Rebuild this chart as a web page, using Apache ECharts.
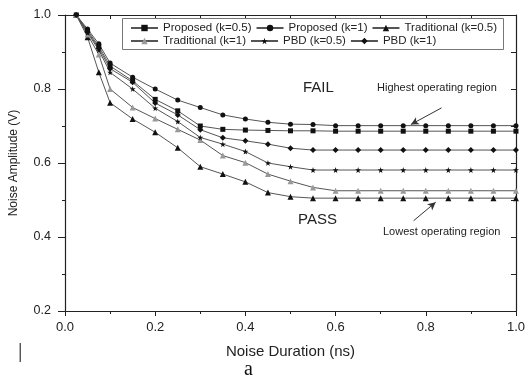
<!DOCTYPE html>
<html>
<head>
<meta charset="utf-8">
<script src="https://cdn.jsdelivr.net/npm/echarts@6/dist/echarts.min.js"></script>
<style>
    html, body { margin: 0; padding: 0; background: #fff; }
    #chart { width: 528px; height: 383px; }
</style>
</head>
<body>
<div id="chart"></div>
<script>
// noise duration (ns)
let durations = [0.025, 0.05, 0.075, 0.1, 0.15, 0.2, 0.25, 0.3, 0.35, 0.4, 0.45, 0.5, 0.55,
    0.6, 0.65, 0.7, 0.75, 0.8, 0.85, 0.9, 0.95, 1.0];

// noise amplitude (V)
let proposedK05 = [1.0, 0.958, 0.915, 0.862, 0.822, 0.772, 0.741, 0.700, 0.691, 0.689, 0.688, 0.687, 0.687,
    0.686, 0.686, 0.686, 0.686, 0.686, 0.686, 0.686, 0.686, 0.686];
let proposedK1 = [1.0, 0.962, 0.922, 0.870, 0.832, 0.800, 0.770, 0.750, 0.730, 0.719, 0.710, 0.705, 0.704,
    0.701, 0.701, 0.701, 0.701, 0.701, 0.701, 0.701, 0.701, 0.701];
let traditionalK05 = [1.0, 0.940, 0.845, 0.763, 0.719, 0.683, 0.641, 0.590, 0.570, 0.549, 0.520, 0.509, 0.505,
    0.505, 0.505, 0.505, 0.505, 0.505, 0.505, 0.505, 0.505, 0.505];
let traditionalK1 = [1.0, 0.947, 0.893, 0.800, 0.750, 0.720, 0.691, 0.662, 0.620, 0.601, 0.570, 0.551, 0.534,
    0.525, 0.525, 0.525, 0.525, 0.525, 0.525, 0.525, 0.525, 0.525];
let pbdK05 = [1.0, 0.952, 0.905, 0.845, 0.800, 0.748, 0.712, 0.669, 0.651, 0.631, 0.600, 0.590, 0.581,
    0.581, 0.581, 0.581, 0.581, 0.581, 0.581, 0.581, 0.581, 0.581];
let pbdK1 = [1.0, 0.955, 0.910, 0.855, 0.818, 0.762, 0.730, 0.690, 0.668, 0.660, 0.651, 0.640, 0.635,
    0.635, 0.635, 0.635, 0.635, 0.635, 0.635, 0.635, 0.635, 0.635];

let xTicks = ['0.0', '0.2', '0.4', '0.6', '0.8', '1.0'];
let yTicks = ['0.2', '0.4', '0.6', '0.8', '1.0'];

const FONT = '"Liberation Sans", Arial, sans-serif';
const STAR = 'path://M50,0 L61,35 L98,35 L68,57 L79,91 L50,70 L21,91 L32,57 L2,35 L39,35 Z';

let pairs = function(ys){
    return durations.map((x, i) => [x, ys[i]]);
};

let makeSeries = function(name, ys, symbol, size, color){
    return {
        name: name,
        type: 'line',
        data: pairs(ys),
        symbol: symbol,
        symbolSize: size,
        showAllSymbol: true,
        lineStyle: { color: '#555', width: 1 },
        itemStyle: { color: color || '#111' },
        emphasis: { disabled: true },
        z: 3
    };
};

let series = [
    makeSeries('Proposed (k=0.5)', proposedK05, 'rect', 5),
    makeSeries('Proposed (k=1)', proposedK1, 'circle', 5),
    makeSeries('Traditional (k=0.5)', traditionalK05, 'triangle', 6),
    makeSeries('Traditional (k=1)', traditionalK1, 'triangle', 6, '#999'),
    makeSeries('PBD (k=0.5)', pbdK05, STAR, 6),
    makeSeries('PBD (k=1)', pbdK1, 'diamond', 6)
];

// annotation arrows, in data coordinates
series.push({
    type: 'line',
    data: [],
    silent: true,
    markLine: {
        silent: true,
        symbol: ['none', 'arrow'],
        symbolSize: [6, 8],
        label: { show: false },
        lineStyle: { color: '#333', width: 1, type: 'solid' },
        data: [
            [{ coord: [0.835, 0.749] }, { coord: [0.767, 0.704] }],
            [{ coord: [0.773, 0.444] }, { coord: [0.822, 0.494] }]
        ]
    }
});

let axisLine = { show: true, onZero: false, lineStyle: { color: '#222', width: 1.2 } };

// legend in two rows, inside one framed box (drawn as graphic rect)
let legendRow = function(names, top){
    return {
        left: 130,
        top: top,
        padding: 0,
        itemWidth: 27,
        itemHeight: 8,
        itemGap: 4,
        z: 5,
        data: names,
        textStyle: { fontFamily: FONT, fontSize: 11.5, color: '#222', lineHeight: 12 }
    };
};

let legendNames = series.slice(0, 6).map(s => s.name);

let option = {
    animation: false,
    backgroundColor: '#fff',
    grid: { left: 65, right: 8, top: 15, bottom: 72 },
    legend: [
        legendRow(legendNames.slice(0, 3), 22),
        legendRow(legendNames.slice(3), 35)
    ],
    xAxis: [
        {
            type: 'value',
            min: 0, max: 1, interval: 0.2,
            name: 'Noise Duration (ns)',
            nameLocation: 'middle',
            nameGap: 33,
            nameTextStyle: { fontFamily: FONT, fontSize: 15, color: '#222' },
            axisLine: axisLine,
            axisTick: { show: true, length: 5, lineStyle: { color: '#222' } },
            minorTick: { show: true, splitNumber: 2, length: 3, lineStyle: { color: '#222' } },
            axisLabel: {
                fontFamily: FONT, fontSize: 13, color: '#222', margin: 10,
                formatter: (v) => xTicks[Math.round(v / 0.2)]
            },
            splitLine: { show: false }
        },
        {
            type: 'value',
            position: 'top',
            min: 0, max: 1, interval: 0.1,
            axisLine: axisLine,
            axisTick: { show: true, inside: true, length: 4, lineStyle: { color: '#222' } },
            axisLabel: { show: false },
            splitLine: { show: false }
        }
    ],
    yAxis: [
        {
            type: 'value',
            min: 0.2, max: 1.0, interval: 0.2,
            name: 'Noise Amplitude (V)',
            nameLocation: 'middle',
            nameGap: 45,
            nameTextStyle: { fontFamily: FONT, fontSize: 12, color: '#222' },
            axisLine: axisLine,
            axisTick: { show: true, length: 7, lineStyle: { color: '#222' } },
            minorTick: { show: true, splitNumber: 2, length: 3, lineStyle: { color: '#222' } },
            axisLabel: {
                fontFamily: FONT, fontSize: 12.5, color: '#222', margin: 14,
                formatter: (v) => yTicks[Math.round((v - 0.2) / 0.2)]
            },
            splitLine: { show: false }
        },
        {
            type: 'value',
            position: 'right',
            min: 0.2, max: 1.0, interval: 0.1,
            axisLine: axisLine,
            axisTick: { show: true, inside: true, length: 5, lineStyle: { color: '#222' } },
            axisLabel: { show: false },
            splitLine: { show: false }
        }
    ],
    series: series,
    graphic: [
        {
            type: 'rect', left: 122, top: 18, z: 4,
            shape: { width: 381, height: 31 },
            style: { fill: '#fff', stroke: '#777', lineWidth: 1 }
        },
        { type: 'text', left: 303, top: 80, style: { text: 'FAIL', font: '15px ' + FONT, fill: '#222' } },
        { type: 'text', left: 298, top: 212, style: { text: 'PASS', font: '15px ' + FONT, fill: '#222' } },
        { type: 'text', left: 377, top: 82, style: { text: 'Highest operating region', font: '11px ' + FONT, fill: '#222' } },
        { type: 'text', left: 383, top: 226, style: { text: 'Lowest operating region', font: '11px ' + FONT, fill: '#222' } },
        { type: 'text', left: 244, top: 360, style: { text: 'a', font: '20px "Liberation Serif", "Times New Roman", serif', fill: '#111' } },
        { type: 'text', left: 18, top: 340, style: { text: '|', font: '22px "Liberation Serif", serif', fill: '#222' } }
    ]
};

let chart = echarts.init(document.getElementById('chart'));
chart.setOption(option);
</script>
</body>
</html>
